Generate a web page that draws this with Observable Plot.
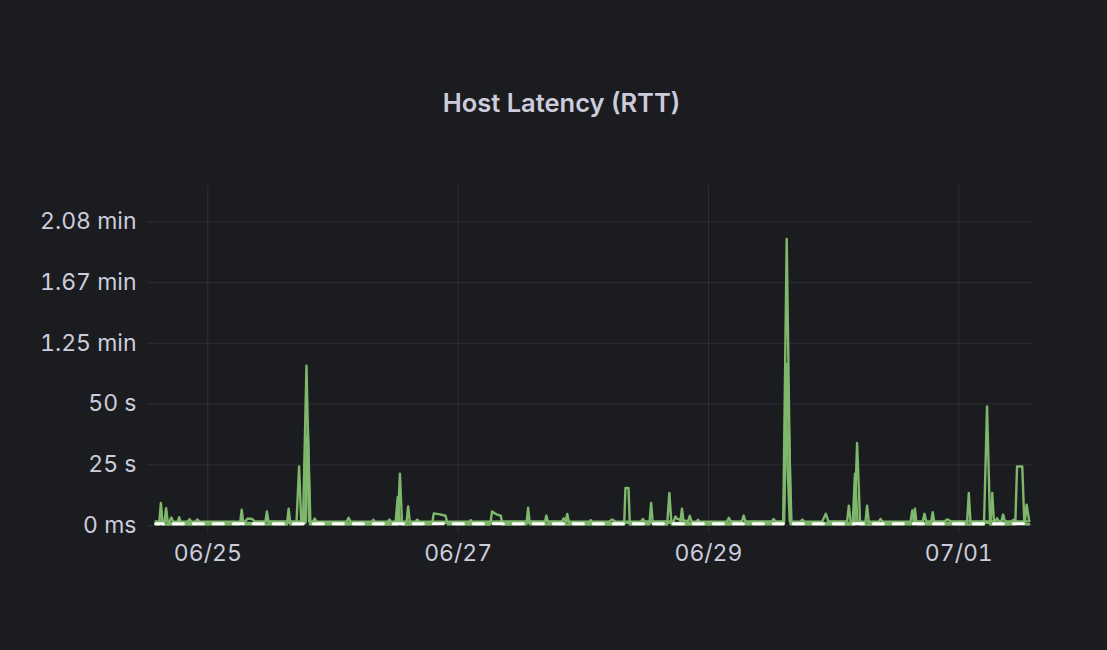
<!DOCTYPE html>
<html>
<head>
<meta charset="utf-8">
<script src="https://cdn.jsdelivr.net/npm/d3@7"></script>
<script src="https://cdn.jsdelivr.net/npm/@observablehq/plot@0.6"></script>
<style>
  html, body { margin: 0; padding: 0; background: #1b1c20; }
  #title {
    box-sizing: border-box; height: 140px; padding-top: 88px; padding-left: 16px;
    line-height: 30px; text-align: center; color: #ccccdc;
    font-family: Inter, "Noto Sans", sans-serif; font-weight: 600; font-size: 25.5px;
  }
  #chart { display: block; }
</style>
</head>
<body>
<div id="title">Host Latency (RTT)</div>
<div id="chart"></div>
<script>
const YEAR = "2024-";
const xDomain = ["06-24 12:26", "07-01 14:08"];
const xTicks = ["06-25 00:00", "06-27 00:00", "06-29 00:00", "07-01 00:00"];
const xTickLabels = ["06/25", "06/27", "06/29", "07/01"];
const yTicks = [0, 25, 50, 75, 100, 125];
const yTickLabels = ["0 ms", "25 s", "50 s", "1.25 min", "1.67 min", "2.08 min"];

// RTT in seconds
const hostA_time = ["06-24 14:00","06-24 14:40","06-24 15:00","06-24 15:20","06-25 06:10","06-25 06:30","06-25 06:50","06-25 15:10","06-25 15:30","06-25 15:50","06-25 18:15","06-25 18:55","06-25 19:35","06-26 12:25","06-26 12:50","06-26 13:15","06-26 19:00","06-26 19:20","06-26 20:30","06-26 21:35","06-26 22:00","06-27 06:10","06-27 06:30","06-27 07:20","06-27 08:10","06-27 08:30","06-27 13:05","06-27 13:25","06-27 13:45","06-28 07:50","06-28 08:05","06-28 08:40","06-28 08:55","06-28 12:40","06-28 13:00","06-28 13:20","06-28 16:05","06-28 16:30","06-28 16:55","06-29 14:20","06-29 15:00","06-29 15:45","06-30 04:00","06-30 04:30","06-30 05:05","06-30 15:15","06-30 15:35","06-30 15:55","07-01 04:50","07-01 05:25","07-01 06:00","07-01 10:50","07-01 11:10","07-01 12:10","07-01 12:35","07-01 13:30"];
const hostA_rtt = [0.4,0.4,9.3,0.4,0.5,6.5,0.5,0.4,6.9,0.4,0.5,65.8,0.5,0.4,21.3,0.4,0.5,5.0,4.6,4.0,0.5,0.4,5.8,4.6,4.1,0.4,0.5,7.3,0.5,0.4,15.5,15.5,0.4,0.5,9.3,0.5,0.4,13.4,0.4,0.5,118,0.5,0.4,34,0.4,0.5,6.9,0.5,0.4,49,0.4,0.5,24.3,24.3,0.5,0.5];

const hostB_time = ["06-24 14:00","06-24 15:40","06-24 16:00","06-24 16:20","06-24 18:10","06-24 18:30","06-24 18:50","06-25 11:00","06-25 11:20","06-25 11:40","06-25 17:00","06-25 17:30","06-25 17:55","06-25 18:45","06-25 19:10","06-25 19:40","06-26 12:00","06-26 12:25","06-26 12:50","06-26 14:05","06-26 14:25","06-26 14:45","06-27 16:35","06-27 16:55","06-27 17:15","06-27 20:35","06-27 20:55","06-27 21:15","06-28 18:35","06-28 18:55","06-28 19:15","06-29 14:30","06-29 15:05","06-29 15:55","06-30 03:40","06-30 04:05","06-30 04:35","06-30 06:05","06-30 06:25","06-30 06:45","06-30 18:40","06-30 19:00","06-30 19:20","07-01 01:35","07-01 01:55","07-01 02:15","07-01 06:05","07-01 06:25","07-01 06:45","07-01 12:40","07-01 13:00","07-01 13:30"];
const hostB_rtt = [1.1,1.1,7.1,1.1,1.1,3.4,1.1,1.1,5.8,1.1,1.1,24.3,1.1,1.1,41,1.1,1.1,11.7,1.1,1.1,7.8,1.1,1.1,4.1,1.1,1.1,4.8,1.1,1.1,6.9,1.1,1.1,66.5,1.1,1.1,21.3,1.1,1.1,8.2,1.1,1.1,5.5,1.1,1.1,13.4,1.1,1.1,13.4,1.1,1.1,8.6,2.0];

const hostC_time = ["06-24 14:00","06-24 16:40","06-24 17:00","06-24 17:20","06-24 20:10","06-24 20:30","06-24 20:50","06-24 21:40","06-24 22:00","06-24 22:20","06-25 07:10","06-25 07:40","06-25 08:30","06-25 09:00","06-25 18:40","06-25 19:00","06-25 19:25","06-25 20:10","06-25 20:30","06-25 20:50","06-26 02:40","06-26 03:00","06-26 03:20","06-26 07:30","06-26 07:45","06-26 08:00","06-26 10:35","06-26 10:50","06-26 11:05","06-26 15:50","06-26 16:10","06-26 16:30","06-27 02:10","06-27 02:25","06-27 02:40","06-27 19:55","06-27 20:15","06-27 20:35","06-28 01:10","06-28 01:25","06-28 01:40","06-28 05:00","06-28 05:30","06-28 06:10","06-28 11:05","06-28 11:25","06-28 11:45","06-28 17:20","06-28 17:40","06-28 18:00","06-28 20:05","06-28 20:25","06-28 20:45","06-28 21:45","06-28 22:00","06-28 22:15","06-29 03:35","06-29 03:55","06-29 04:15","06-29 06:25","06-29 06:45","06-29 07:05","06-29 12:10","06-29 12:30","06-29 12:50","06-29 14:25","06-29 14:50","06-29 15:10","06-29 15:35","06-29 17:40","06-29 18:00","06-29 18:20","06-29 21:50","06-29 22:30","06-29 23:00","06-30 02:35","06-30 02:55","06-30 03:15","06-30 08:40","06-30 09:00","06-30 09:20","06-30 14:45","06-30 15:05","06-30 15:25","06-30 17:05","06-30 17:25","06-30 17:45","06-30 21:15","06-30 21:45","06-30 22:30","07-01 07:00","07-01 07:20","07-01 07:40","07-01 08:10","07-01 08:30","07-01 08:50","07-01 10:10","07-01 10:30","07-01 10:50","07-01 13:30"];
const hostC_rtt = [1.7,1.7,3.3,1.7,1.6,2.6,1.6,1.6,2.5,1.6,1.7,2.9,2.7,1.7,1.7,37,1.7,1.6,2.9,1.6,1.7,3.2,1.7,1.6,2.4,1.6,1.7,2.5,1.7,1.6,2.4,1.6,1.6,2.2,1.6,1.7,3.0,1.7,1.6,2.2,1.6,1.6,2.5,1.6,1.7,2.7,1.7,1.7,3.7,2.7,1.7,4.0,1.7,1.6,2.4,1.6,1.7,3.2,1.7,1.7,4.1,1.7,1.7,2.7,1.7,1.7,52.8,24,1.7,1.6,2.4,1.6,1.7,4.8,1.7,1.7,8.2,1.7,1.6,2.7,1.6,1.7,6.2,1.7,1.7,4.8,1.7,1.7,2.5,1.7,1.7,3.0,1.7,1.7,4.5,1.7,1.7,2.4,1.7,1.7];

const minLine_time = ["06-24 14:00", "07-01 13:30"];
const minLine_rtt = [0.7, 0.7];

const parse = d3.utcParse("%Y-%m-%d %H:%M");
const toDate = s => parse(YEAR + s);
const series = (name, times, vals) => times.map((t, i) => ({host: name, time: toDate(t), rtt: vals[i]}));

const data = [
  ...series("host-a", hostA_time, hostA_rtt),
  ...series("host-b", hostB_time, hostB_rtt),
  ...series("host-c", hostC_time, hostC_rtt)
];
const minData = series("min", minLine_time, minLine_rtt);

const xTickDates = xTicks.map(toDate);
const xLabelOf = new Map(xTickDates.map((d, i) => [+d, xTickLabels[i]]));
const yLabelOf = new Map(yTicks.map((v, i) => [v, yTickLabels[i]]));

const GRID = "#ccccdc";
const TEXT = "#ccccdc";
const GREEN = "#7fb86c";

const chart = Plot.plot({
  width: 1107,
  height: 510,
  marginTop: 45,
  marginBottom: 125,
  marginLeft: 147,
  marginRight: 75,
  style: {background: "transparent", color: TEXT, fontFamily: "Inter, 'Noto Sans', sans-serif", fontSize: "23px"},
  x: {type: "utc", domain: xDomain.map(toDate), label: null},
  y: {domain: [0, 140], label: null},
  marks: [
    Plot.gridY({ticks: yTicks, stroke: GRID, strokeOpacity: 0.11}),
    Plot.gridX({ticks: xTickDates, stroke: GRID, strokeOpacity: 0.11}),
    Plot.axisY({ticks: yTicks, label: null, tickSize: 0, tickPadding: 11, tickFormat: v => yLabelOf.get(v), fill: TEXT, fontSize: 23}),
    Plot.axisX({ticks: xTickDates, label: null, tickSize: 8, tickPadding: 11, tickFormat: d => xLabelOf.get(+d), stroke: GRID, strokeOpacity: 0.11, fill: TEXT, fontSize: 23}),
    Plot.line(data, {x: "time", y: "rtt", z: "host", stroke: GREEN, strokeWidth: 2.4, curve: "linear"}),
    Plot.line(minData, {x: "time", y: "rtt", stroke: "#ffffff", strokeWidth: 3, strokeDasharray: "10,10", strokeDashoffset: 2.3})
  ]
});
document.getElementById("chart").appendChild(chart);
</script>
</body>
</html>
